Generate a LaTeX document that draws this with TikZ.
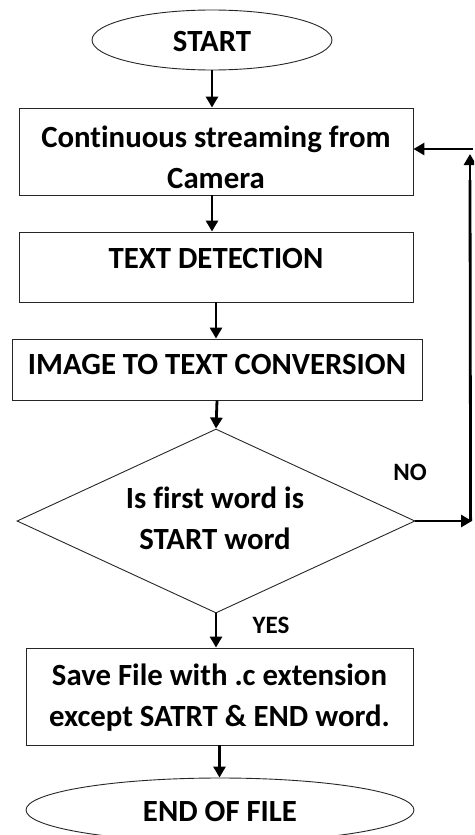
\documentclass[tikz,border=0pt]{standalone}
\usepackage{fontspec}
\setmainfont[Ligatures=CommonOff]{Carlito}
\usetikzlibrary{shapes.geometric,arrows.meta}
\tikzset{
  flow/.style={line width=0.9pt, draw=black!85},
  terminal/.style={flow, ellipse, inner sep=0pt},
  procbox/.style={flow, rectangle, inner sep=0pt},
  decision/.style={flow, diamond, inner sep=0pt},
  caption/.style={font=\bfseries\fontsize{30.8}{41}\selectfont, align=center, inner sep=0pt},
  tag/.style={font=\bfseries\fontsize{25}{28}\selectfont, inner sep=0pt},
  link/.style={line width=2.8pt, -{Triangle[length=11pt,width=12pt]}},
  plain/.style={line width=2.8pt}
}
\begin{document}
\begin{tikzpicture}[x=1pt, y=-1pt]
  \useasboundingbox (0,0) rectangle (474,835);
  \begin{scope}
  \clip (0,0) rectangle (474,835);

  % start / end terminals
  \node[terminal, minimum width=240, minimum height=60] (start) at (212,40) {};
  \node[caption] (startT) at (212,42) {START};

  % processing steps
  \node[procbox, minimum width=394, minimum height=87] (cam) at (216,151.5) {};
  \node[caption] (camT) at (216,157) {Continuous streaming from\\Camera};

  \node[procbox, minimum width=394, minimum height=70] (det) at (216,267) {};
  \node[caption] (detT) at (216,259) {TEXT DETECTION};

  \node[procbox, minimum width=410, minimum height=61] (conv) at (217,369.5) {};
  \node[caption] (convT) at (217,365) {IMAGE TO TEXT CONVERSION};

  % decision
  \node[decision, minimum width=398, minimum height=184] (dec) at (216,521) {};
  \node[caption] (decT) at (215,518) {Is first word is\\START word};

  % saving step
  \node[procbox, minimum width=387, minimum height=97] (save) at (219.5,696.5) {};
  \node[caption] (saveT) at (219.5,698) {Save File with .c extension\\except SATRT \& END word.};

  \node[terminal, minimum width=388, minimum height=64] (fin) at (220,810) {};
  \node[caption] (finT) at (220,811) {END OF FILE};

  % branch labels
  \node[tag] (no) at (410,472) {NO};
  \node[tag] (yes) at (271,625) {YES};

  % main flow
  \draw[link] (start.south) -- (start.south |- cam.north);
  \draw[link] ([xshift=-4pt]cam.south) -- ([xshift=-4pt]det.north);
  \draw[link] (det.south) -- (det.south |- conv.north);
  \draw[link] (conv.south) -- (dec.north);
  \draw[link] (dec.south) -- (dec.south |- save.north);
  \draw[link] (save.south) -- (save.south |- fin.north);

  % loop back on NO
  \coordinate (turnA) at (472,521);
  \coordinate (turnB) at (470,150);
  \coordinate (turnC) at (473,149);
  \draw[link] (dec.east) -- (turnA);
  \draw[plain] ([xshift=-1.4pt]turnA) -- ([yshift=-30pt]turnB);
  \draw[link] ([yshift=-40pt]turnB) -- ([yshift=-4pt]turnB);
  \draw[link] (turnC) -- (cam.east |- turnC);
  \end{scope}
\end{tikzpicture}
\end{document}
